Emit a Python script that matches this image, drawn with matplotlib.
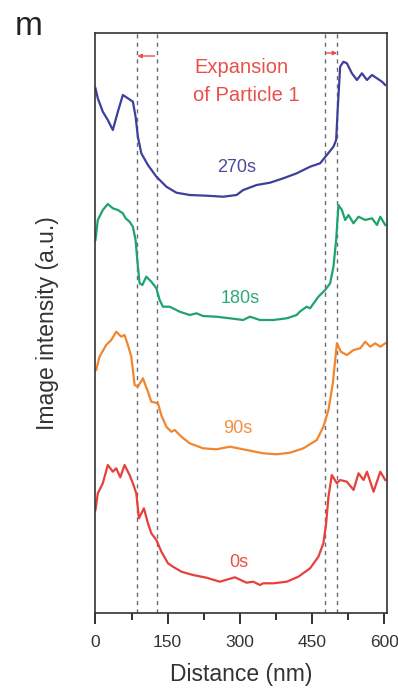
import matplotlib
matplotlib.use("Agg")
import matplotlib.pyplot as plt

plt.rcParams['font.family'] = ['Liberation Sans', 'DejaVu Sans']

# ---- data (distance in nm, intensity in a.u. incl. vertical offset) ----
x_270 = [0, 4.8, 15.2, 25.6, 36, 46.5, 56.9, 67.3, 77.7, 83.3, 88.1, 95.2, 108.9, 126.5, 147.3,
         168.1, 195.8, 230.6, 265.2, 293.1, 306.9, 334.8, 362.5, 390.2, 418.1, 445.8, 466.7,
         480.6, 494.4, 500, 503.5, 508.3, 515.2, 522.3, 532.7, 543.1, 553.5, 564, 574.4, 584.8,
         595.2, 602]
y_270 = [524.7, 514.7, 501.3, 493, 483, 501.3, 518, 514.7, 511.3, 496.3, 476.3, 459.7, 448,
         436.3, 426.3, 420.3, 418, 417.3, 416.3, 418, 423, 428, 430.3, 434.7, 439.7, 446.3, 449.7,
         458, 466.3, 473, 506.3, 546.3, 551.3, 549.7, 539.7, 533, 539.7, 533, 538, 534.7, 531.3,
         528]

x_180 = [0, 4.8, 15.2, 25.6, 36, 46.5, 56.9, 62.5, 70.8, 77.7, 83.3, 88.1, 91.7, 97.3, 105.6,
         116, 126.5, 133.3, 140.2, 154.2, 175, 195.8, 209.8, 223.5, 251.3, 279.2, 306.9, 320.8,
         341.7, 369.4, 397.3, 418.1, 424.3, 438.9, 445.8, 463.1, 477.1, 487.5, 494.4, 500, 504.8,
         511.9, 518.8, 525.6, 536, 546.5, 560.4, 574.4, 584.8, 591.7, 602]
y_180 = [373, 393, 403, 409, 404.7, 403, 399.7, 394.7, 391.3, 386.3, 373, 346.3, 329.7, 328,
         336.3, 331.3, 324.7, 313, 306.3, 306.3, 301.3, 298, 299.7, 297, 296.3, 294.7, 293, 296.3,
         293, 293, 294.7, 298, 301.3, 306.3, 304.7, 316.3, 323, 329.7, 346.3, 373, 408, 403, 393,
         398, 389.7, 396.3, 393, 394.7, 388, 396.3, 388]

x_90 = [1.5, 8.3, 22.3, 32.7, 43.1, 53.5, 60.4, 67.3, 74.4, 81.3, 88.1, 98.5, 109, 116, 129.8,
        136.7, 147.1, 157.5, 164.6, 178.5, 195.8, 223.5, 251.3, 279.2, 296.5, 314, 348.5, 376.3,
        404.2, 431.9, 459.8, 473.5, 484, 493.1, 501.5, 509.8, 522.3, 536.2, 550, 560.4, 570.8,
        581.2, 591.7, 602]
y_90 = [243, 256.3, 268, 273, 281.3, 276.3, 278, 268, 256.3, 228, 226.3, 234.7, 221.3, 211.3,
        209.7, 198, 186.3, 181.3, 183, 176.3, 169.7, 164.7, 163.7, 166.3, 164.7, 163, 159.7, 158.7,
        160.3, 164.7, 173, 186.3, 203, 229.7, 269.7, 261.3, 258, 263, 264.7, 271.3, 266.3, 269.7,
        266.3, 269.7]

x_0 = [0, 4.8, 15.2, 25.6, 36, 43.1, 51.5, 60.4, 70.8, 77.7, 84.8, 90.2, 100.6, 109, 116, 126.5,
       136.9, 150.6, 161, 178.5, 202.7, 230.6, 258.3, 289.6, 314, 327.7, 341.7, 348.5, 369.4,
       397.3, 421.5, 445.8, 463.1, 473.5, 479.2, 484, 491, 501.5, 508.3, 522.3, 536.2, 546.5,
       556.9, 564, 577.7, 591.7, 602]
y_0 = [103, 119.7, 129.7, 148, 141.3, 144.7, 135.7, 148, 138, 129.7, 119.7, 94.7, 104.7, 89.7,
       79.7, 73, 61.3, 49.7, 46.3, 41.3, 38, 35.3, 31.3, 35.7, 30.3, 31.3, 28, 29.7, 29.7, 31.3,
       36.3, 44.7, 56.3, 69.7, 89.7, 116.3, 138, 129.7, 133, 131.3, 123, 139.7, 133, 141.3, 121.3,
       141.3, 133]

series_labels = ["270s", "180s", "90s", "0s"]
label_x = [293, 300, 296.5, 298.5]
label_y = [446, 315, 185, 51]
boundary_lines = [87, 127, 477, 502]
xticks = [0, 150, 300, 450, 600]

colors = ["#3d3f9a", "#1fa36c", "#f0862e", "#e8403a"]
text_colors = ["#4a4c9e", "#2fa878", "#f09040", "#e85048"]
red_text = "#e8504a"

fig = plt.figure(figsize=(3.98, 6.89), dpi=100)
ax = fig.add_axes([0.2387, 0.1103, 0.7329, 0.8418])

xs = [x_270, x_180, x_90, x_0]
ys = [y_270, y_180, y_90, y_0]
for xv, yv, c in zip(xs, ys, colors):
    ax.plot(xv, yv, color=c, lw=1.6, solid_joinstyle='round')

for bx in boundary_lines:
    ax.axvline(bx, color="#6a6a78", lw=1.0, ls=(0, (3, 3)), zorder=0)

for lab, lx, ly, tc in zip(series_labels, label_x, label_y, text_colors):
    ax.text(lx, ly, lab, color=tc, fontsize=13, ha='center', va='center')

ax.text(304, 546, "Expansion", color=red_text, fontsize=14.5, ha='center', va='center')
ax.text(314, 518, "of Particle 1", color=red_text, fontsize=14.5, ha='center', va='center')

ax.annotate("", xy=(boundary_lines[0], 557), xytext=(boundary_lines[1] - 4, 557),
            arrowprops=dict(arrowstyle='-|>', color=red_text, lw=1.0, mutation_scale=6,
                            shrinkA=0, shrinkB=0))
ax.annotate("", xy=(boundary_lines[3], 560), xytext=(boundary_lines[2] + 3, 560),
            arrowprops=dict(arrowstyle='-|>', color=red_text, lw=1.0, mutation_scale=6,
                            shrinkA=0, shrinkB=0))

ax.set_xlim(-1, 605)
ax.set_ylim(0, 580)
ax.set_yticks([])
ax.set_xticks(xticks)
ax.set_xticks([75, 225, 375, 525], minor=True)
ax.tick_params(axis='x', which='major', direction='out', length=8, width=1.3,
               labelsize=12.5, colors='#222222', labelcolor='#333333', pad=8)
ax.tick_params(axis='x', which='minor', direction='out', length=5, width=1.3, colors='#222222')
for s in ax.spines.values():
    s.set_linewidth(1.2)
    s.set_color('#333333')

ax.set_xlabel("Distance (nm)", fontsize=16.5, color='#333333', labelpad=9)
ax.set_ylabel("Image intensity (a.u.)", fontsize=16.5, color='#333333', labelpad=26)

fig.text(0.038, 0.962, "m", fontsize=24, color='#222222', ha='left', va='center')

fig.savefig("out.png", dpi=100)
